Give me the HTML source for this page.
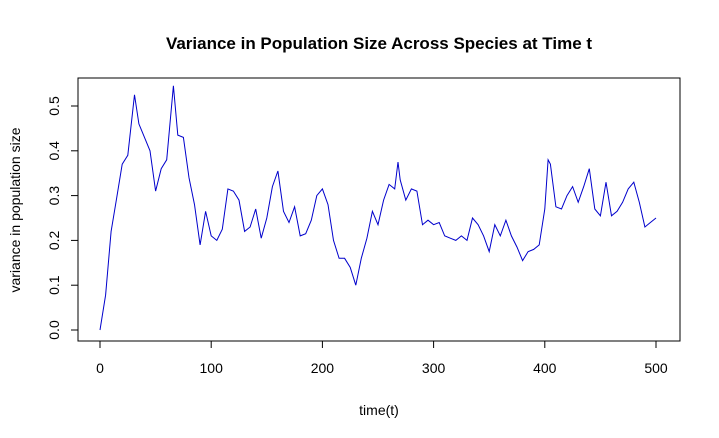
<!DOCTYPE html>
<html><head><meta charset="utf-8"><style>
body{margin:0;background:#fff;}
svg{display:block;font-family:"Liberation Sans",Arial,sans-serif;}
</style></head><body>
<svg id="chart" width="719" height="438" viewBox="0 0 719 438">
<rect width="719" height="438" fill="#fff"/>
<text x="379" y="49" text-anchor="middle" font-size="17" font-weight="bold">Variance in Population Size Across Species at Time t</text>
<rect x="78" y="78" width="602" height="263" fill="none" stroke="#000" stroke-width="1"/>
<g id="xaxis"></g>
<g id="yaxis"></g>
<text x="379" y="415" text-anchor="middle" font-size="14">time(t)</text>
<text transform="translate(20,210) rotate(-90)" text-anchor="middle" font-size="14">variance in population size</text>
<path id="line" fill="none" stroke="#0000cc" stroke-width="1"/>
</svg>
<script>
const times = [0,5,10,15,20,25,31,35,40,45,50,55,60,66,70,75,80,85,90,95,100,105,110,115,120,125,130,135,140,145,150,155,160,165,170,175,180,185,190,195,200,205,210,215,220,225,230,235,240,245,250,255,260,265,268,270,275,280,285,290,295,300,305,310,315,320,325,330,335,340,345,350,355,360,365,370,375,380,385,390,395,400,403,405,410,415,420,425,430,435,440,445,450,455,460,465,470,475,480,485,490,495,500];
const variances = [0,0.078,0.22,0.295,0.37,0.39,0.525,0.46,0.43,0.40,0.31,0.36,0.38,0.545,0.435,0.43,0.34,0.28,0.19,0.265,0.21,0.2,0.225,0.315,0.31,0.29,0.22,0.23,0.27,0.205,0.25,0.32,0.355,0.265,0.24,0.275,0.21,0.215,0.245,0.30,0.315,0.28,0.20,0.16,0.16,0.14,0.10,0.16,0.205,0.265,0.235,0.29,0.325,0.315,0.375,0.335,0.29,0.315,0.31,0.235,0.245,0.235,0.24,0.21,0.205,0.20,0.21,0.20,0.25,0.235,0.21,0.175,0.235,0.21,0.245,0.21,0.185,0.155,0.175,0.18,0.19,0.27,0.38,0.37,0.275,0.27,0.30,0.32,0.285,0.32,0.36,0.27,0.255,0.33,0.255,0.265,0.285,0.315,0.33,0.285,0.23,0.24,0.25];
const xTicks = [0,100,200,300,400,500];
const yTicks = [0.0,0.1,0.2,0.3,0.4,0.5];
const yTickLabels = ["0.0","0.1","0.2","0.3","0.4","0.5"];

const NS="http://www.w3.org/2000/svg";
const xs = t => 100 + t*(556/500);
const ys = v => 330 - v*448;

let d = times.map((t,i)=>(i?"L":"M")+xs(t).toFixed(1)+","+ys(variances[i]).toFixed(1)).join("");
document.getElementById("line").setAttribute("d", d);

const xa=document.getElementById("xaxis");
let xl=document.createElementNS(NS,"line");


xl.setAttribute("x1",xs(0));xl.setAttribute("x2",xs(500));xl.setAttribute("y1",341);xl.setAttribute("y2",341);xl.setAttribute("stroke","#000");
xa.appendChild(xl);
xTicks.forEach(t=>{
  let l=document.createElementNS(NS,"line");
  
  
  l.setAttribute("x1",xs(t));l.setAttribute("x2",xs(t));l.setAttribute("y1",341);l.setAttribute("y2",348);l.setAttribute("stroke","#000");
  xa.appendChild(l);
  let tx=document.createElementNS(NS,"text");
  
  
  tx.setAttribute("x",xs(t));tx.setAttribute("y",373);tx.setAttribute("text-anchor","middle");tx.setAttribute("font-size","14");
  tx.textContent=t;xa.appendChild(tx);
});
const ya=document.getElementById("yaxis");
let yl=document.createElementNS(NS,"line");


yl.setAttribute("x1",78);yl.setAttribute("x2",78);yl.setAttribute("y1",ys(0));yl.setAttribute("y2",ys(0.5));yl.setAttribute("stroke","#000");
ya.appendChild(yl);
yTicks.forEach((v,i)=>{
  let l=document.createElementNS(NS,"line");
  
  
  l.setAttribute("x1",71);l.setAttribute("x2",78);l.setAttribute("y1",ys(v));l.setAttribute("y2",ys(v));l.setAttribute("stroke","#000");
  ya.appendChild(l);
  let tx=document.createElementNS(NS,"text");
  
  
  tx.setAttribute("transform","translate(59,"+ys(v)+") rotate(-90)");tx.setAttribute("text-anchor","middle");tx.setAttribute("font-size","14");
  tx.textContent=yTickLabels[i];ya.appendChild(tx);
});
</script>
</body></html>
